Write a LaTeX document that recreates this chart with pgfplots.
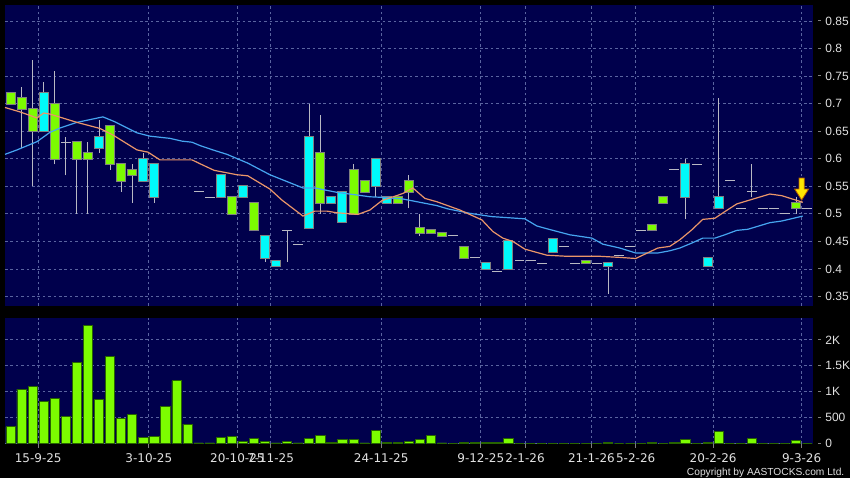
\documentclass[border=0pt]{standalone}
\usepackage{pgfplots}
\pgfplotsset{compat=1.18}
\usepackage{pgfplotstable}
\usepackage{fontspec}
\newfontfamily\djv{DejaVu Sans}
\newfontfamily\lib{Liberation Sans}

\definecolor{navy}{RGB}{0,0,76}
\definecolor{gridc}{RGB}{90,100,160}
\definecolor{upc}{RGB}{124,252,0}
\definecolor{dnc}{RGB}{0,250,250}
\definecolor{bodyedge}{RGB}{128,128,128}
\definecolor{wick}{RGB}{185,185,195}
\definecolor{maten}{RGB}{235,150,105}
\definecolor{matwenty}{RGB}{70,165,240}
\definecolor{voledge}{RGB}{40,100,0}
\definecolor{labc}{RGB}{225,225,225}

% i open high low close
\pgfplotstableread{
i o h l c
0 0.70 0.72 0.70 0.72
1 0.69 0.73 0.62 0.71
2 0.65 0.78 0.55 0.69
3 0.72 0.74 0.65 0.65
4 0.60 0.76 0.59 0.70
5 0.63 0.64 0.57 0.63
6 0.60 0.63 0.50 0.63
7 0.60 0.63 0.50 0.61
8 0.64 0.67 0.61 0.62
9 0.59 0.66 0.58 0.66
10 0.56 0.59 0.54 0.59
11 0.57 0.59 0.52 0.58
12 0.60 0.61 0.56 0.56
13 0.59 0.59 0.52 0.53
17 0.54 0.54 0.54 0.54
18 0.53 0.53 0.53 0.53
19 0.57 0.57 0.53 0.53
20 0.50 0.53 0.50 0.53
21 0.55 0.55 0.53 0.53
22 0.47 0.52 0.47 0.52
23 0.46 0.46 0.413 0.42
24 0.415 0.415 0.405 0.405
25 0.47 0.47 0.413 0.47
26 0.445 0.445 0.445 0.445
27 0.64 0.70 0.475 0.475
28 0.52 0.68 0.50 0.61
29 0.53 0.53 0.52 0.52
30 0.54 0.54 0.485 0.485
31 0.50 0.59 0.50 0.58
32 0.54 0.56 0.54 0.56
33 0.60 0.60 0.53 0.55
34 0.53 0.53 0.52 0.52
35 0.52 0.53 0.52 0.53
36 0.54 0.57 0.51 0.56
37 0.465 0.50 0.46 0.475
38 0.465 0.47 0.465 0.47
39 0.46 0.465 0.46 0.465
40 0.46 0.46 0.46 0.46
41 0.42 0.44 0.42 0.44
42 0.42 0.42 0.42 0.42
43 0.41 0.41 0.40 0.40
44 0.395 0.395 0.395 0.395
45 0.45 0.45 0.40 0.40
46 0.415 0.415 0.415 0.415
47 0.415 0.415 0.415 0.415
48 0.41 0.41 0.41 0.41
49 0.455 0.455 0.43 0.43
50 0.44 0.44 0.44 0.44
51 0.41 0.41 0.41 0.41
52 0.41 0.415 0.41 0.415
53 0.41 0.41 0.41 0.41
54 0.41 0.41 0.355 0.405
55 0.425 0.425 0.425 0.425
56 0.44 0.44 0.44 0.44
57 0.47 0.47 0.47 0.47
58 0.47 0.48 0.47 0.48
59 0.52 0.53 0.52 0.53
60 0.58 0.58 0.58 0.58
61 0.59 0.60 0.49 0.53
62 0.59 0.59 0.59 0.59
63 0.42 0.42 0.405 0.405
64 0.53 0.71 0.51 0.51
65 0.56 0.56 0.56 0.56
66 0.51 0.51 0.51 0.51
67 0.54 0.59 0.53 0.54
68 0.51 0.51 0.51 0.51
69 0.51 0.51 0.51 0.51
70 0.50 0.50 0.50 0.50
71 0.51 0.53 0.50 0.52
72 0.51 0.51 0.51 0.51
}\candles

\pgfplotstableread{
i v
0 316
1 1045
2 1103
3 813
4 858
5 510
6 1555
7 2283
8 845
9 1677
10 484
11 561
12 103
13 129
14 716
15 1206
16 368
17 5
18 5
19 116
20 135
21 39
22 84
23 32
24 5
25 39
26 5
27 84
28 148
29 19
30 65
31 65
32 5
33 239
34 6
35 6
36 26
37 65
38 142
39 5
40 0
41 19
42 19
43 19
44 13
45 84
46 0
47 0
48 0
49 0
50 0
51 0
52 0
53 0
54 19
55 0
56 0
57 0
58 19
59 0
60 10
61 65
62 0
63 10
64 219
65 0
66 0
67 97
68 0
69 0
70 0
71 58
72 0
}\vol

\pgfdeclareplotmark{dnarrow}{%
  \pgfpathmoveto{\pgfpoint{-1.3bp}{0bp}}%
  \pgfpathlineto{\pgfpoint{-1.3bp}{-5.5bp}}%
  \pgfpathlineto{\pgfpoint{-3.5bp}{-5.5bp}}%
  \pgfpathlineto{\pgfpoint{0bp}{-11bp}}%
  \pgfpathlineto{\pgfpoint{3.5bp}{-5.5bp}}%
  \pgfpathlineto{\pgfpoint{1.3bp}{-5.5bp}}%
  \pgfpathlineto{\pgfpoint{1.3bp}{0bp}}%
  \pgfpathclose
  \pgfusepathqfillstroke
}

\newcommand{\dash}{\textcolor{gray}{\rule[1.9bp]{1.6bp}{0.5bp}}\hspace{2bp}}

\pgfplotsset{
  panel/.style={
    scale only axis, width=404bp, anchor=south west,
    xmin=-0.5, xmax=72.5,
    axis background/.style={fill=navy},
    axis line style={draw=none},
    grid=major,
    major grid style={draw=gridc, line width=0.4bp, dash pattern=on 1.3bp off 1.4bp},
    xtick={2.5,12.5,20.5,23.5,33.5,42.5,46.5,52.5,56.5,63.5,71.5},
    tick align=outside, major tick length=2bp,
    ytick style={draw=none},
    yticklabel pos=right,
    yticklabel style={anchor=west, inner sep=0pt, xshift=0.5bp, text=labc,
      font=\lib\fontsize{6bp}{7bp}\selectfont},
  },
}

\begin{document}
\begin{tikzpicture}
\fill[black] (0,0) rectangle (425bp,239bp);

% price panel
\begin{axis}[panel, at={(2.5bp,86bp)}, height=150.5bp,
  ymin=0.333, ymax=0.879,
  ytick={0.35,0.4,0.45,0.5,0.55,0.6,0.65,0.7,0.75,0.8,0.85},
  yticklabels={\dash 0.35,\dash 0.4,\dash 0.45,\dash 0.5,\dash 0.55,\dash 0.6,\dash 0.65,\dash 0.7,\dash 0.75,\dash 0.8,\dash 0.85},
  xticklabels={}, xtick style={draw=none}]

% wicks
\addplot[draw=none, mark=none, forget plot,
  error bars/.cd, y dir=plus, y explicit, error mark=none,
  error bar style={draw=wick, line width=0.5bp, solid}]
  table[x=i, y=l, y error expr=\thisrow{h}-\thisrow{l}] {\candles};

% dojis
\addplot[draw=none, mark=none, forget plot,
  restrict expr to domain={\thisrow{c}-\thisrow{o}}{-0.00005:0.00005},
  error bars/.cd, x dir=both, x fixed=0.45, error mark=none,
  error bar style={draw=wick, line width=0.5bp, solid}]
  table[x=i, y=c] {\candles};

% up bodies
\addplot[draw=none, mark=none, forget plot,
  restrict expr to domain={\thisrow{c}-\thisrow{o}}{0.0001:1},
  error bars/.cd, y dir=both, y explicit, error mark=none,
  error bar style={draw=bodyedge, line width=5bp, solid}]
  table[x=i, y expr=(\thisrow{o}+\thisrow{c})/2, y error expr=(\thisrow{c}-\thisrow{o})/2+0.0018] {\candles};
\addplot[draw=none, mark=none, forget plot,
  restrict expr to domain={\thisrow{c}-\thisrow{o}}{0.0001:1},
  error bars/.cd, y dir=both, y explicit, error mark=none,
  error bar style={draw=upc, line width=4bp, solid}]
  table[x=i, y expr=(\thisrow{o}+\thisrow{c})/2, y error expr=(\thisrow{c}-\thisrow{o})/2] {\candles};

% down bodies
\addplot[draw=none, mark=none, forget plot,
  restrict expr to domain={\thisrow{c}-\thisrow{o}}{-1:-0.0001},
  error bars/.cd, y dir=both, y explicit, error mark=none,
  error bar style={draw=bodyedge, line width=5bp, solid}]
  table[x=i, y expr=(\thisrow{o}+\thisrow{c})/2, y error expr=(\thisrow{o}-\thisrow{c})/2+0.0018] {\candles};
\addplot[draw=none, mark=none, forget plot,
  restrict expr to domain={\thisrow{c}-\thisrow{o}}{-1:-0.0001},
  error bars/.cd, y dir=both, y explicit, error mark=none,
  error bar style={draw=dnc, line width=4bp, solid}]
  table[x=i, y expr=(\thisrow{o}+\thisrow{c})/2, y error expr=(\thisrow{o}-\thisrow{c})/2] {\candles};

% moving averages
\addplot[matwenty, line width=0.6bp, mark=none] coordinates {
(-0.5,0.608) (0.58,0.616) (2.39,0.631) (3.57,0.648) (4.5,0.656) (6.0,0.666)
(8.35,0.676) (9.44,0.667) (11.43,0.647) (12.6,0.641) (14.41,0.637) (15.49,0.632)
(16.4,0.630) (17.12,0.624) (18.29,0.616) (19.56,0.608) (21.45,0.592) (23.44,0.571)
(26.43,0.547) (27.5,0.547) (29.5,0.539) (31.39,0.534) (32.48,0.531) (33.56,0.530)
(35.46,0.527) (36.99,0.521) (38.53,0.515) (39.53,0.509) (41.51,0.501) (43.5,0.495)
(46.48,0.491) (47.57,0.478) (48.47,0.473) (50.55,0.462) (52.54,0.456) (53.53,0.445)
(55.07,0.438) (56.5,0.429) (58.5,0.429) (59.58,0.433) (60.49,0.438) (61.57,0.447)
(62.56,0.456) (63.65,0.456) (64.55,0.462) (65.63,0.470) (66.63,0.472) (68.62,0.484)
(69.7,0.487) (71.6,0.496)};
\addplot[maten, line width=0.6bp, mark=none] coordinates {
(-0.5,0.693) (0.86,0.685) (2.39,0.674) (3.0,0.683) (3.57,0.681) (6.0,0.666)
(8.08,0.655) (9.26,0.643) (11.43,0.616) (12.42,0.612) (13.5,0.598) (16.4,0.598)
(17.12,0.591) (18.4,0.579) (20.46,0.571) (21.45,0.569) (23.44,0.545) (24.53,0.525)
(26.43,0.496) (27.5,0.505) (28.59,0.505) (29.5,0.502) (31.39,0.499) (32.48,0.507)
(33.56,0.524) (35.46,0.537) (36.36,0.547) (37.45,0.528) (38.53,0.522) (40.61,0.507)
(42.6,0.489) (43.59,0.468) (44.49,0.456) (45.4,0.450) (46.48,0.436) (48.47,0.425)
(50.28,0.423) (53.26,0.423) (55.07,0.421) (56.5,0.419) (58.5,0.438) (59.58,0.441)
(60.49,0.453) (61.57,0.471) (62.56,0.490) (63.65,0.492) (64.55,0.504) (65.63,0.518)
(66.63,0.524) (68.62,0.536) (69.7,0.533) (71.6,0.521)};

% marker arrow
\addplot[only marks, mark=dnarrow, mark options={fill=yellow!90!orange, draw=orange!70!black, line width=0.4bp, solid}]
  coordinates {(71.5,0.565)};
\end{axis}

% volume panel
\begin{axis}[panel, at={(2.5bp,17bp)}, height=63bp,
  ymin=-13, ymax=2426,
  ytick={0,500,1000,1500,2000},
  yticklabels={\dash 0,\dash 500,\dash 1K,\dash 1.5K,\dash 2K},
  xtick pos=bottom,
  xtick style={draw=gray, line width=0.5bp},
  xticklabels={15-9-25,3-10-25,20-10-25,7-11-25,24-11-25,9-12-25,2-1-26,21-1-26,5-2-26,20-2-26,9-3-26},
  xticklabel style={anchor=north, inner sep=0pt, yshift=-2.8bp, text=labc,
    font=\djv\fontsize{6bp}{7bp}\selectfont}]
\addplot[ybar, bar width=4.6bp, fill=upc, draw=voledge, line width=0.4bp]
  table[x=i, y=v] {\vol};
\end{axis}

\node[anchor=base east, inner sep=0pt, text=labc, font=\lib\fontsize{5.1bp}{6bp}\selectfont]
  at (422.5bp,1.3bp) {Copyright by AASTOCKS.com Ltd.};
\end{tikzpicture}
\end{document}
